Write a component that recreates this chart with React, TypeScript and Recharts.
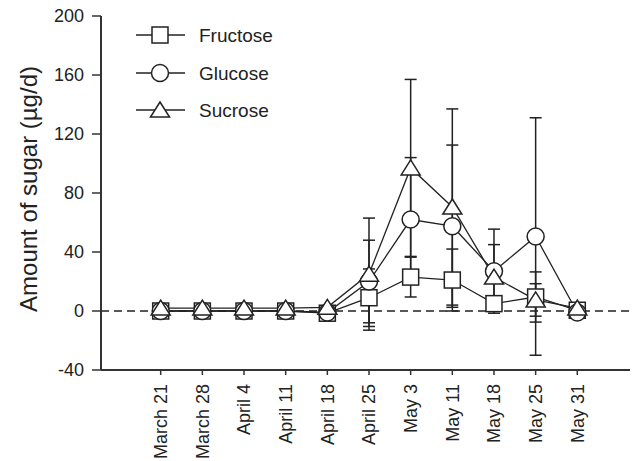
import React from 'react'
import { LineChart, Line, XAxis, YAxis, ErrorBar, ReferenceLine, Legend } from 'recharts'

const categories = ['March 21', 'March 28', 'April 4', 'April 11', 'April 18', 'April 25', 'May 3', 'May 11', 'May 18', 'May 25', 'May 31']
const fructose = [0, 0, 0, 0, -1.5, 9, 23, 21, 5, 9.5, 0.5]
const fructoseErr = [0, 0, 0, 0, 0, 19.5, 13.5, 21, 5, 17, 0]
const glucose = [0, 0, 0, 0, -1, 20, 62, 57.5, 27, 50.5, -1]
const glucoseErr = [0, 0, 0, 0, 0, 28, 42, 55, 28.5, 80.5, 0]
const sucrose = [2, 2, 2, 2, 2.5, 25, 97, 70.5, 23, 7.5, 2]
const sucroseErr = [0, 0, 0, 0, 0, 38, 60, 66.5, 22, 11, 0]
const yTicks = [-40, 0, 40, 80, 120, 160, 200]
const seriesNames = ['Fructose', 'Glucose', 'Sucrose']

const data = categories.map((c, i) => ({
  idx: i,
  date: c,
  fructose: fructose[i],
  fructoseErr: fructoseErr[i],
  glucose: glucose[i],
  glucoseErr: glucoseErr[i],
  sucrose: sucrose[i],
  sucroseErr: sucroseErr[i],
}))

const FONT = '"Liberation Sans", Arial, Helvetica, sans-serif'
const INK = '#222'

function Marker({ shape, cx, cy }: { shape: string; cx: number; cy: number }) {
  if (shape === 'square') {
    return <rect x={cx - 8} y={cy - 8} width={16} height={16} fill="#fff" stroke={INK} strokeWidth={1.5} />
  }
  if (shape === 'circle') {
    return <circle cx={cx} cy={cy} r={8.5} fill="#fff" stroke={INK} strokeWidth={1.5} />
  }
  return (
    <polygon
      points={`${cx},${cy - 8} ${cx + 9.5},${cy + 7} ${cx - 9.5},${cy + 7}`}
      fill="#fff"
      stroke={INK}
      strokeWidth={1.5}
    />
  )
}

const dotFor = (shape: string) => (props: any) => {
  const { cx, cy, index } = props
  if (cx == null || cy == null) return <g key={`${shape}-${index}`} />
  return <Marker key={`${shape}-${index}`} shape={shape} cx={cx} cy={cy} />
}

function XTick({ x, y, payload }: any) {
  const ty = y + 7
  return (
    <text
      x={x}
      y={ty}
      transform={`rotate(-90 ${x} ${ty})`}
      textAnchor="end"
      dy="0.35em"
      fontSize={18}
      fontFamily={FONT}
      fill={INK}
    >
      {categories[payload.value]}
    </text>
  )
}

function YLabel() {
  return (
    <text
      x={29}
      y={189}
      transform="rotate(-90 29 189)"
      textAnchor="middle"
      dy="0.35em"
      fontSize={24}
      fontFamily={FONT}
      fill={INK}
    >
      Amount of sugar (µg/d)
    </text>
  )
}

const shapes = ['square', 'circle', 'triangle']
const legendRows = [35, 73, 110]

function LegendBox() {
  return (
    <svg width={300} height={130} style={{ display: 'block' }}>
      {seriesNames.map((name, i) => (
        <g key={name}>
          <line x1={136} x2={185} y1={legendRows[i]} y2={legendRows[i]} stroke={INK} strokeWidth={1.5} />
          <Marker shape={shapes[i]} cx={160} cy={legendRows[i]} />
          <text x={199} y={legendRows[i]} dy="0.35em" fontSize={19} fontFamily={FONT} fill={INK}>
            {name}
          </text>
        </g>
      ))}
    </svg>
  )
}

export default function App() {
  return (
    <div style={{ position: 'absolute', left: 0, top: 0 }}>
      <LineChart width={634} height={461} data={data} margin={{ top: 16, right: 4, left: 0, bottom: 0 }}>
        <XAxis
          type="number"
          dataKey="idx"
          domain={[-1.433, 11.265]}
          ticks={[0, 1, 2, 3, 4, 5, 6, 7, 8, 9, 10]}
          height={91}
          tickSize={5}
          tick={<XTick />}
          axisLine={{ stroke: '#333', strokeWidth: 2 }}
          tickLine={{ stroke: '#333', strokeWidth: 1.5 }}
          interval={0}
        />
        <YAxis
          type="number"
          domain={[-40, 200]}
          ticks={yTicks}
          width={101}
          tickSize={9}
          tickMargin={8}
          tick={{ fontSize: 18, fontFamily: FONT, fill: INK }}
          axisLine={{ stroke: '#333', strokeWidth: 2 }}
          tickLine={{ stroke: '#333', strokeWidth: 1.5 }}
          label={<YLabel />}
        />
        <ReferenceLine y={0} stroke={INK} strokeWidth={1.5} strokeDasharray="8 5" />
        <Legend
          layout="horizontal"
          verticalAlign="middle"
          align="center"
          content={<LegendBox />}
          wrapperStyle={{ top: 0, left: 0, width: 300, height: 130 }}
        />
        <Line
          dataKey="fructose"
          name="Fructose"
          stroke={INK}
          strokeWidth={1.3}
          dot={dotFor('square')}
          activeDot={false}
          isAnimationActive={false}
        >
          <ErrorBar dataKey="fructoseErr" width={6} stroke={INK} strokeWidth={1.5} direction="y" />
        </Line>
        <Line
          dataKey="glucose"
          name="Glucose"
          stroke={INK}
          strokeWidth={1.3}
          dot={dotFor('circle')}
          activeDot={false}
          isAnimationActive={false}
        >
          <ErrorBar dataKey="glucoseErr" width={6} stroke={INK} strokeWidth={1.5} direction="y" />
        </Line>
        <Line
          dataKey="sucrose"
          name="Sucrose"
          stroke={INK}
          strokeWidth={1.3}
          dot={dotFor('triangle')}
          activeDot={false}
          isAnimationActive={false}
        >
          <ErrorBar dataKey="sucroseErr" width={6} stroke={INK} strokeWidth={1.5} direction="y" />
        </Line>
      </LineChart>
    </div>
  )
}
